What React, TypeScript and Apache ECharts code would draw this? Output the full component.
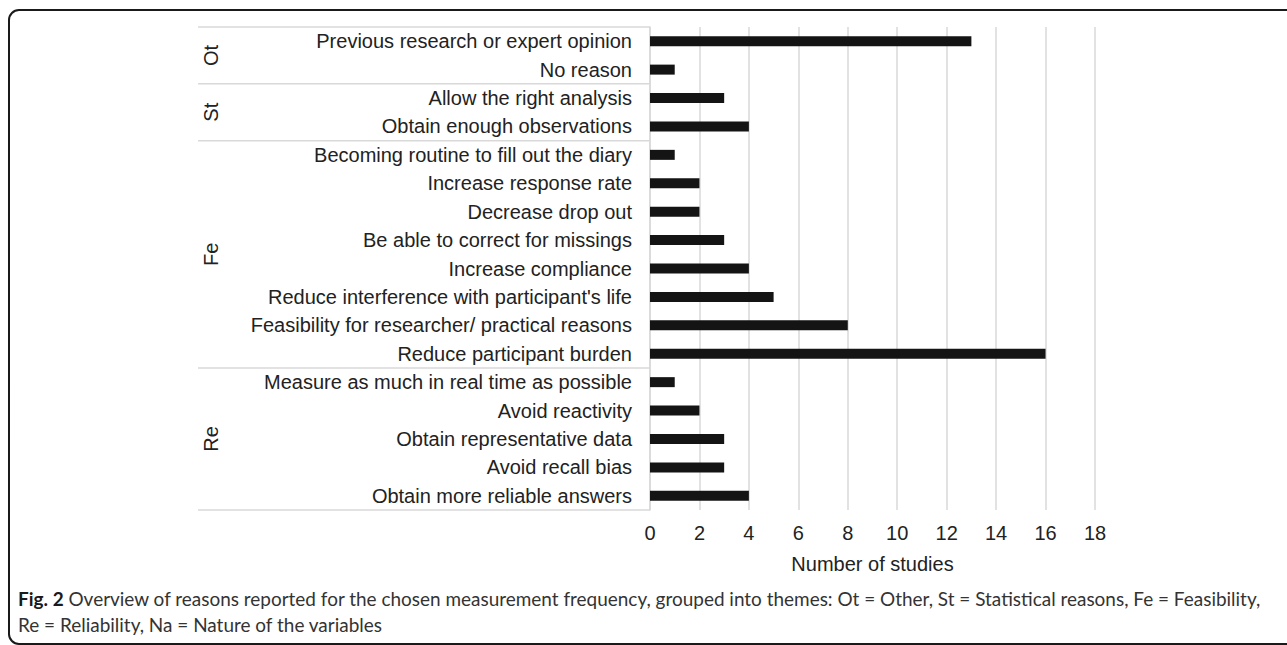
import React, { useEffect, useRef } from "react";
import * as echarts from "echarts";

const categories = [
  "Previous research or expert opinion",
  "No reason",
  "Allow the right analysis",
  "Obtain enough observations",
  "Becoming routine to fill out the diary",
  "Increase response rate",
  "Decrease drop out",
  "Be able to correct for missings",
  "Increase compliance",
  "Reduce interference with participant's life",
  "Feasibility for researcher/ practical reasons",
  "Reduce participant burden",
  "Measure as much in real time as possible",
  "Avoid reactivity",
  "Obtain representative data",
  "Avoid recall bias",
  "Obtain more reliable answers",
];
const values = [13, 1, 3, 4, 1, 2, 2, 3, 4, 5, 8, 16, 1, 2, 3, 3, 4];
const groupNames = ["Ot", "St", "Fe", "Re"];
const groupSizes = [2, 2, 8, 5];
const xMin = 0;
const xMax = 18;
const xInterval = 2;
const axisTitle = "Number of studies";
const captionBold = "Fig. 2";
const captionLine1 =
  " Overview of reasons reported for the chosen measurement frequency, grouped into themes: Ot = Other, St = Statistical reasons, Fe = Feasibility,";
const captionLine2 = "Re = Reliability, Na = Nature of the variables";

const GRID_LEFT = 650;
const GROUP_LINE_LEFT = 198;
const GROUP_LABEL_X = 211;
const FONT = "'Liberation Sans', Arial, Helvetica, sans-serif";
const CAPTION_FONT = "Lato, 'Open Sans', sans-serif";
const CAPTION_SIZE = 19;
const CAPTION_X = 18;
const CAPTION_WIDTH = 1244;

export default function App() {
  const ref = useRef<HTMLDivElement>(null);
  useEffect(() => {
    if (!ref.current) return;
    const chart = echarts.init(ref.current, null, { renderer: "svg" });
    chart.setOption({
      animation: false,
      grid: { left: GRID_LEFT, right: 192, top: 27, bottom: 135, containLabel: false },
      xAxis: {
        type: "value",
        min: xMin,
        max: xMax,
        interval: xInterval,
        axisLine: { show: false },
        axisTick: { show: false },
        axisLabel: { fontSize: 20, color: "#222", fontFamily: FONT, margin: 13 },
        splitLine: { show: true, lineStyle: { color: "#d9d9d9", width: 1.5 } },
        name: axisTitle,
        nameLocation: "middle",
        nameGap: 44,
        nameTextStyle: { fontSize: 20, color: "#222", fontFamily: FONT },
      },
      yAxis: {
        type: "category",
        inverse: true,
        data: categories,
        axisLine: { show: true, lineStyle: { color: "#d9d9d9", width: 1.5 } },
        axisTick: { show: false },
        axisLabel: { fontSize: 20, color: "#222", fontFamily: FONT, margin: 18, interval: 0 },
        splitLine: { show: false },
      },
      series: [
        {
          type: "bar",
          data: values,
          barWidth: 10,
          itemStyle: { color: "#141414" },
        },
      ],
    });

    const p0 = chart.convertToPixel({ yAxisIndex: 0 }, 0) as number;
    const p1 = chart.convertToPixel({ yAxisIndex: 0 }, 1) as number;
    const band = Math.abs(p1 - p0);
    const graphics: any[] = [
      {
        type: "rect",
        shape: { x: 9, y: 10, width: 1400, height: 634, r: 10 },
        style: { fill: "none", stroke: "#1a1a1a", lineWidth: 2 },
        silent: true,
        z: -1,
      },
    ];
    let start = 0;
    const boundaries: number[] = [];
    groupNames.forEach((g, gi) => {
      const end = start + groupSizes[gi] - 1;
      const top = (chart.convertToPixel({ yAxisIndex: 0 }, start) as number) - band / 2;
      const bottom = (chart.convertToPixel({ yAxisIndex: 0 }, end) as number) + band / 2;
      if (gi === 0) boundaries.push(top);
      boundaries.push(bottom);
      graphics.push({
        type: "text",
        x: GROUP_LABEL_X,
        y: (top + bottom) / 2,
        rotation: Math.PI / 2,
        style: {
          text: g,
          fontSize: 20,
          fill: "#222",
          fontFamily: FONT,
          textAlign: "center",
          textVerticalAlign: "middle",
        },
      });
      start = end + 1;
    });
    boundaries.forEach((y) => {
      graphics.push({
        type: "line",
        shape: { x1: GROUP_LINE_LEFT, y1: y, x2: GRID_LEFT, y2: y },
        style: { stroke: "#d9d9d9", lineWidth: 1.5 },
        silent: true,
      });
    });

    // fit caption width to the reference's line length
    let sx = 1;
    const ctx = document.createElement("canvas").getContext("2d");
    if (ctx) {
      ctx.font = `bold ${CAPTION_SIZE}px ${CAPTION_FONT}`;
      const w1 = ctx.measureText(captionBold).width;
      ctx.font = `${CAPTION_SIZE}px ${CAPTION_FONT}`;
      const w2 = ctx.measureText(captionLine1).width;
      if (w1 + w2 > 0) sx = CAPTION_WIDTH / (w1 + w2);
    }
    graphics.push({
      type: "text",
      x: CAPTION_X,
      y: 598,
      scaleX: sx,
      style: {
        text: `{b|${captionBold}}{n|${captionLine1}}`,
        textVerticalAlign: "middle",
        rich: {
          b: { fontSize: CAPTION_SIZE, fontWeight: "bold", fill: "#1a1a1a", fontFamily: CAPTION_FONT },
          n: { fontSize: CAPTION_SIZE, fill: "#333", fontFamily: CAPTION_FONT },
        },
      },
    });
    graphics.push({
      type: "text",
      x: CAPTION_X,
      y: 624,
      scaleX: sx,
      style: {
        text: captionLine2,
        fontSize: CAPTION_SIZE,
        fill: "#333",
        fontFamily: CAPTION_FONT,
        textVerticalAlign: "middle",
      },
    });
    chart.setOption({ graphic: graphics });
    return () => chart.dispose();
  }, []);
  return (
    <div
      ref={ref}
      style={{ position: "absolute", left: 0, top: 0, width: 1287, height: 645 }}
    />
  );
}
